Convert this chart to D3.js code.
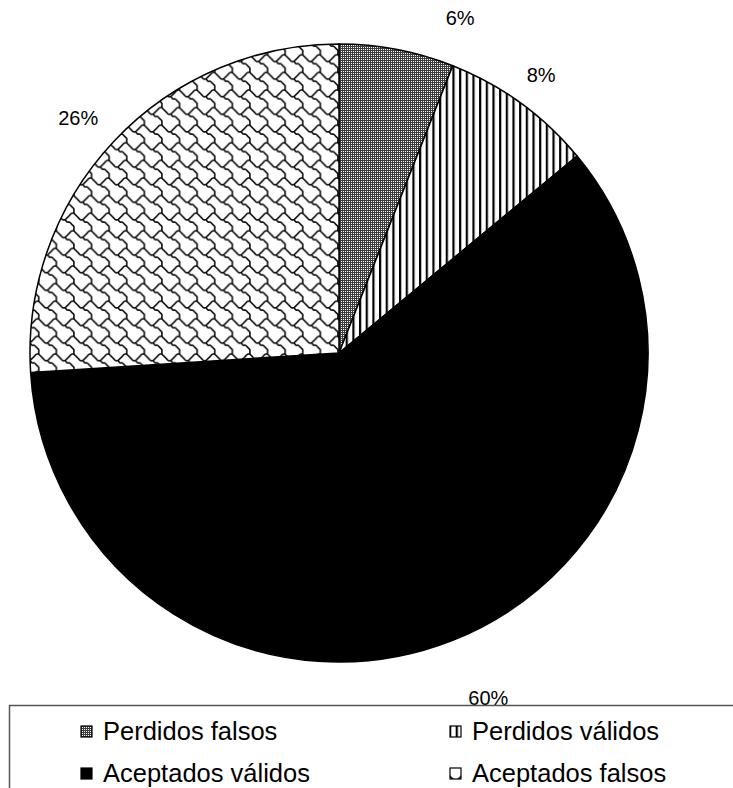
<!DOCTYPE html>
<html>
<head>
<meta charset="utf-8">
<script src="https://cdn.jsdelivr.net/npm/d3@7"></script>
<style>
  html, body { margin: 0; padding: 0; background: #fff; }
  svg { display: block; }
  text { font-family: "Liberation Sans", Arial, sans-serif; fill: #000; }
</style>
</head>
<body>
<script>
// Share of each outcome (percent)
const categories = ["Perdidos falsos", "Perdidos válidos", "Aceptados válidos", "Aceptados falsos"];
const values = [6, 8, 60, 26];
const valueLabels = ["6%", "8%", "60%", "26%"];
const fills = ["url(#dots)", "url(#vstripes)", "#000", "url(#shingle)"];

// Layout
const W = 733, H = 788;
const cx = 339, cy = 353, R = 309;
const labelRadius = [356, 344, 376, 351];
const labelAngleNudge = [9.1, 0, -1.8, -1.2]; // degrees
const legendBox = { x: 9.5, y: 705.5 };
const legendCols = [80, 449];
const legendRows = [731, 773];

const svg = d3.select("body").append("svg")
  .attr("width", W).attr("height", H);

// Fill patterns
const defs = svg.append("defs");

// Fine grey dot screen
const dots = defs.append("pattern").attr("id", "dots")
  .attr("patternUnits", "userSpaceOnUse").attr("width", 2).attr("height", 2);
dots.append("rect").attr("width", 2).attr("height", 2).attr("fill", "#3c3c3c");
dots.append("rect").attr("x", 0).attr("y", 0).attr("width", 1).attr("height", 1).attr("fill", "#fff");

// Vertical stripes
const stripe = defs.append("pattern").attr("id", "vstripes")
  .attr("patternUnits", "userSpaceOnUse").attr("width", 6.67).attr("height", 10);
stripe.append("rect").attr("width", 6.67).attr("height", 10).attr("fill", "#fff");
stripe.append("rect").attr("x", 0).attr("width", 2.2).attr("height", 10).attr("fill", "#000");

// Shingle motif on an 8x8 cell grid, scaled up
const s = 2.2, tile = 8 * s;
const mainLine = [[-0.5,0.5],[0.5,1.5],[1.5,2.5],[2.5,3.5],[3.5,3.5],[4.5,4.5],[5.5,4.5],[6.5,5.5],[7.5,6.5],[7.5,7.5],[7.5,8.5]];
const branch = [[7.5,0.5],[6.5,0.5],[5.5,1.5],[4.5,2.5],[3.5,3.5]];
const shingle = defs.append("pattern").attr("id", "shingle")
  .attr("patternUnits", "userSpaceOnUse").attr("width", tile).attr("height", tile);
shingle.append("rect").attr("width", tile).attr("height", tile).attr("fill", "#fff");
const lineGen = d3.line().x(d => d[0] * s).y(d => d[1] * s).curve(d3.curveCatmullRom);
for (const ox of [-8, 0, 8]) {
  for (const oy of [-8, 0, 8]) {
    for (const seg of [mainLine, branch]) {
      shingle.append("path")
        .attr("d", lineGen(seg.map(p => [p[0] + ox, p[1] + oy])))
        .attr("fill", "none").attr("stroke", "#000").attr("stroke-width", 1.5);
    }
  }
}

// Pie
const pie = d3.pie().sort(null).value(d => d)(values);
const arc = d3.arc().innerRadius(0).outerRadius(R);

const g = svg.append("g").attr("transform", `translate(${cx},${cy})`);
g.selectAll("path.slice").data(pie).join("path")
  .attr("class", "slice")
  .attr("d", arc)
  .attr("fill", (d, i) => fills[i])
  .attr("stroke", "#000")
  .attr("stroke-width", 1.5)
  .attr("stroke-linejoin", "round");

// Percentage labels outside the slices
const labelAngle = (d, i) => (d.startAngle + d.endAngle) / 2 + labelAngleNudge[i] * Math.PI / 180;
g.selectAll("text.pct").data(pie).join("text")
  .attr("class", "pct")
  .attr("text-anchor", "middle")
  .attr("dominant-baseline", "central")
  .attr("font-size", 20)
  .attr("x", (d, i) => labelRadius[i] * Math.sin(labelAngle(d, i)))
  .attr("y", (d, i) => -labelRadius[i] * Math.cos(labelAngle(d, i)))
  .text((d, i) => valueLabels[i]);

// Legend
svg.append("rect")
  .attr("x", legendBox.x).attr("y", legendBox.y)
  .attr("width", W + 20).attr("height", 120)
  .attr("fill", "none").attr("stroke", "#555").attr("stroke-width", 1.5);

const items = svg.append("g").selectAll("g").data(categories).join("g")
  .attr("transform", (d, i) => `translate(${legendCols[i % 2]},${legendRows[Math.floor(i / 2)]})`);
items.append("rect")
  .attr("x", 1).attr("y", -5).attr("width", 11).attr("height", 11)
  .attr("fill", (d, i) => fills[i])
  .attr("stroke", "#000").attr("stroke-width", 1.2);
items.append("text")
  .attr("x", 23).attr("y", 9)
  .attr("font-size", 25.5)
  .text(d => d);
</script>
</body>
</html>
